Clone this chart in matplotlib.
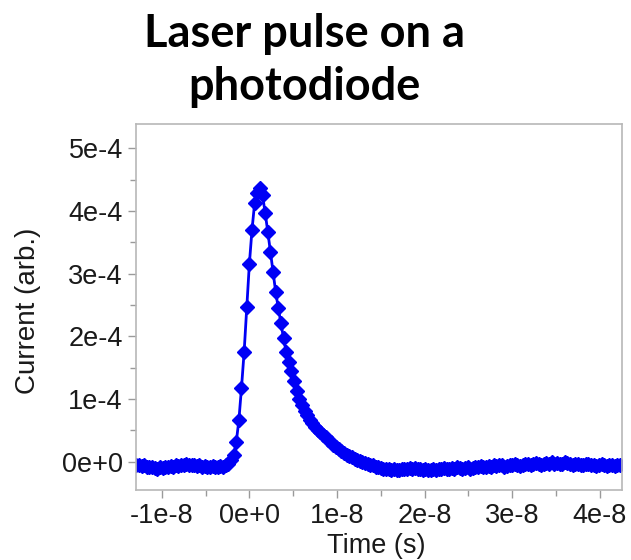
import numpy as np
import matplotlib
matplotlib.use("Agg")
import matplotlib.pyplot as plt
from matplotlib.ticker import MultipleLocator, FuncFormatter

# Photodiode current samples (units of 1e-4 arb.), uniformly sampled in time
current_e4 = [
    # pre-pulse baseline
    -0.06, -0.05, -0.07, -0.06, -0.08, -0.09, -0.08, -0.10, -0.11, -0.09,
    -0.10, -0.08, -0.09, -0.07, -0.08, -0.06, -0.07, -0.05, -0.06, -0.04,
    -0.05, -0.06, -0.05, -0.07, -0.06, -0.08, -0.07, -0.09, -0.08, -0.07,
    -0.09, -0.08, -0.07, -0.08, -0.06, -0.04,
    # rising edge and peak
    0.02, 0.10, 0.31, 0.66, 1.18, 1.75, 2.47, 3.16, 3.70, 4.13,
    4.29, 4.37, 4.25, 3.97, 3.67, 3.35, 3.03, 2.71, 2.45, 2.21,
    1.97, 1.75, 1.59, 1.44, 1.28, 1.12,
    # decay tail
    1.00, 0.90, 0.81, 0.74, 0.67, 0.61, 0.56, 0.51, 0.47, 0.43,
    0.39, 0.35, 0.31, 0.27, 0.23, 0.20, 0.17, 0.14, 0.11, 0.09,
    0.07, 0.05, 0.03, 0.01, 0.00, -0.02, -0.03, -0.05, -0.06, -0.08,
    -0.09, -0.10, -0.11, -0.12,
    # post-pulse baseline
    -0.12, -0.13, -0.12, -0.14, -0.13, -0.12, -0.11, -0.12, -0.10, -0.11,
    -0.10, -0.12, -0.11, -0.13, -0.12, -0.14, -0.13, -0.12, -0.13, -0.11,
    -0.12, -0.10, -0.11, -0.12, -0.10, -0.11, -0.09, -0.10, -0.11, -0.10,
    -0.09, -0.11, -0.10, -0.08, -0.09, -0.07, -0.08, -0.09, -0.07, -0.08,
    -0.06, -0.07, -0.05, -0.06, -0.08, -0.07, -0.05, -0.06, -0.04, -0.05,
    -0.07, -0.06, -0.04, -0.03, -0.05, -0.04, -0.02, -0.03, -0.05, -0.04,
    -0.02, -0.03, -0.01, -0.03, -0.02, -0.04, -0.03, -0.01, -0.02, -0.04,
    -0.05, -0.03, -0.04, -0.06, -0.05, -0.03, -0.04, -0.06, -0.05, -0.07,
    -0.06, -0.04, -0.05, -0.07, -0.06, -0.05, -0.07, -0.06, -0.05,
]
t_start = -1.29e-8      # s, first sample
t_step = 3.0e-10        # s, sample interval

time = t_start + t_step * np.arange(len(current_e4))
current = np.array(current_e4) * 1e-4

x_ticks = [-1e-8, 0.0, 1e-8, 2e-8, 3e-8, 4e-8]
y_ticks = [0.0, 1e-4, 2e-4, 3e-4, 4e-4, 5e-4]


def sci_label(v, pos=None):
    if abs(v) < 1e-30:
        return "0e+0"
    mant, exp = f"{v:.0e}".split("e")
    return f"{mant}e{int(exp)}"


fig = plt.figure(figsize=(6.31, 5.60), dpi=100)
fig.patch.set_facecolor("white")

W, H = 631, 560
ax = fig.add_axes([136 / W, 1 - 490 / H, (621.5 - 136) / W, (490 - 124) / H])

ax.plot(time, current, color="#0000f5", lw=2.0, marker="D", ms=7.6,
        mec="#0000f5", mfc="#0000f5")

ax.set_xlim(-1.294e-8, 4.247e-8)
ax.set_ylim(-0.452e-4, 5.388e-4)

ax.set_xticks(x_ticks)
ax.set_yticks(y_ticks)
ax.xaxis.set_minor_locator(MultipleLocator(5e-9))
ax.yaxis.set_minor_locator(MultipleLocator(5e-5))
ax.xaxis.set_major_formatter(FuncFormatter(sci_label))
ax.yaxis.set_major_formatter(FuncFormatter(sci_label))

tick_font = "Liberation Sans"
for lab in ax.get_xticklabels() + ax.get_yticklabels():
    lab.set_fontfamily(tick_font)
ax.tick_params(which="both", direction="out", color="#9a9a9a", width=1.0,
               top=False, right=False)
ax.tick_params(which="major", length=6, labelsize=19.5, labelcolor="#1a1a1a",
               pad=3.5)
ax.tick_params(which="minor", length=4.5)

for sp in ax.spines.values():
    sp.set_color("#b8b8b8")
    sp.set_linewidth(1.2)

ax.set_xlabel("Time (s)", fontsize=19.5, family=tick_font, color="#1a1a1a")
ax.set_ylabel("Current (arb.)", fontsize=20, family=tick_font, color="#1a1a1a")
ax.xaxis.set_label_coords(0.494, -0.117)
ax.yaxis.set_label_coords(-0.195, 0.49)

title_kw = dict(ha="center", va="baseline", fontsize=32.5, fontweight="bold",
                family="Lato", color="black")
fig.text(304 / W, 1 - 46.7 / H, "Laser pulse on a", **title_kw)
fig.text(304 / W, 1 - 100 / H, "photodiode", **title_kw)

fig.savefig("out.png", dpi=100, facecolor="white")
